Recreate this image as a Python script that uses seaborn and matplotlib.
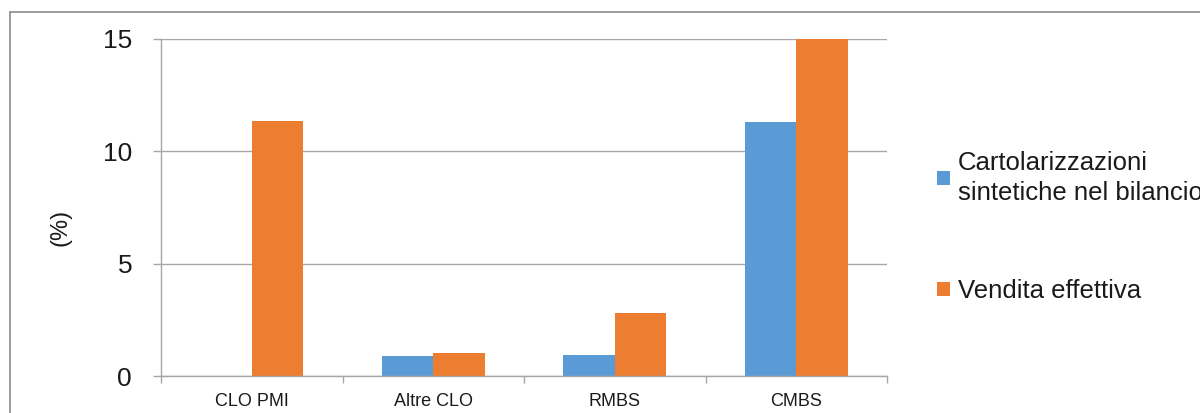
import matplotlib
matplotlib.use("Agg")
import matplotlib.pyplot as plt
from matplotlib.lines import Line2D
from matplotlib.ticker import FixedLocator
import pandas as pd
import seaborn as sns

# Data
categories = ["CLO PMI", "Altre CLO", "RMBS", "CMBS"]
series_names = ["Cartolarizzazioni\nsintetiche nel bilancio", "Vendita effettiva"]
synthetic = [0.0, 0.88, 0.93, 11.3]
true_sale = [11.35, 1.01, 2.8, 15.0]
y_ticks = [0, 5, 10, 15]

colors = ["#5B9BD5", "#ED7D31"]

df = pd.DataFrame({
    "categoria": categories * 2,
    "serie": [series_names[0]] * len(categories) + [series_names[1]] * len(categories),
    "valore": synthetic + true_sale,
})

sns.set_theme(style="white")
plt.rcParams["font.family"] = ["Liberation Sans", "DejaVu Sans"]

fig = plt.figure(figsize=(12, 4.13), dpi=100)
ax = fig.add_axes([161 / 1200, 1 - 376 / 413, (887 - 161) / 1200, (376 - 39) / 413])

sns.barplot(data=df, x="categoria", y="valore", hue="serie", palette=colors,
            width=0.57, saturation=1, ax=ax, legend=True, edgecolor="none",
            linewidth=0)

grid_color = "#a6a6a6"
text_color = "#1a1a1a"
ax.set_ylim(0, 15)
ax.set_xlim(-0.5, len(categories) - 0.5)
ax.set_yticks(y_ticks)
ax.set_yticklabels([str(t) for t in y_ticks], fontsize=19, color=text_color)
ax.yaxis.grid(True, color=grid_color, linewidth=1)
ax.set_axisbelow(True)
ax.tick_params(axis="y", length=5.8, width=1, color=grid_color, pad=15, left=True)
ax.tick_params(axis="x", which="major", length=0, pad=12, labelsize=13, labelcolor=text_color)
ax.xaxis.set_minor_locator(FixedLocator([i - 0.5 for i in range(len(categories) + 1)]))
ax.tick_params(axis="x", which="minor", length=5, width=1, color=grid_color, bottom=True)
ax.set_xlabel("")
ax.set_ylabel("(%)", fontsize=17, color=text_color)
ax.yaxis.set_label_coords(-0.123, 0.44)

for side in ["top", "right"]:
    ax.spines[side].set_visible(False)
for side in ["left", "bottom"]:
    ax.spines[side].set_color(grid_color)
    ax.spines[side].set_linewidth(1)

# Legend to the right of the plot
handles, labels = ax.get_legend_handles_labels()
ax.get_legend().remove()
leg = fig.legend(handles, labels, loc="center left", bbox_to_anchor=(914 / 1200, 1 - 227 / 413),
                 frameon=False, fontsize=18.5, handlelength=0.5, handleheight=0.5,
                 handletextpad=0.3, labelspacing=2.9, labelcolor=text_color)
for t in leg.get_texts():
    t.set_linespacing(1.3)

# Outer chart border
border_color = "#8c8c8c"
fig.add_artist(Line2D([10 / 1200, 10 / 1200], [0, 1 - 12 / 413], transform=fig.transFigure,
                      color=border_color, linewidth=1.2))
fig.add_artist(Line2D([10 / 1200, 1], [1 - 12 / 413, 1 - 12 / 413], transform=fig.transFigure,
                      color=border_color, linewidth=1.2))

fig.savefig("out.png", dpi=100)
